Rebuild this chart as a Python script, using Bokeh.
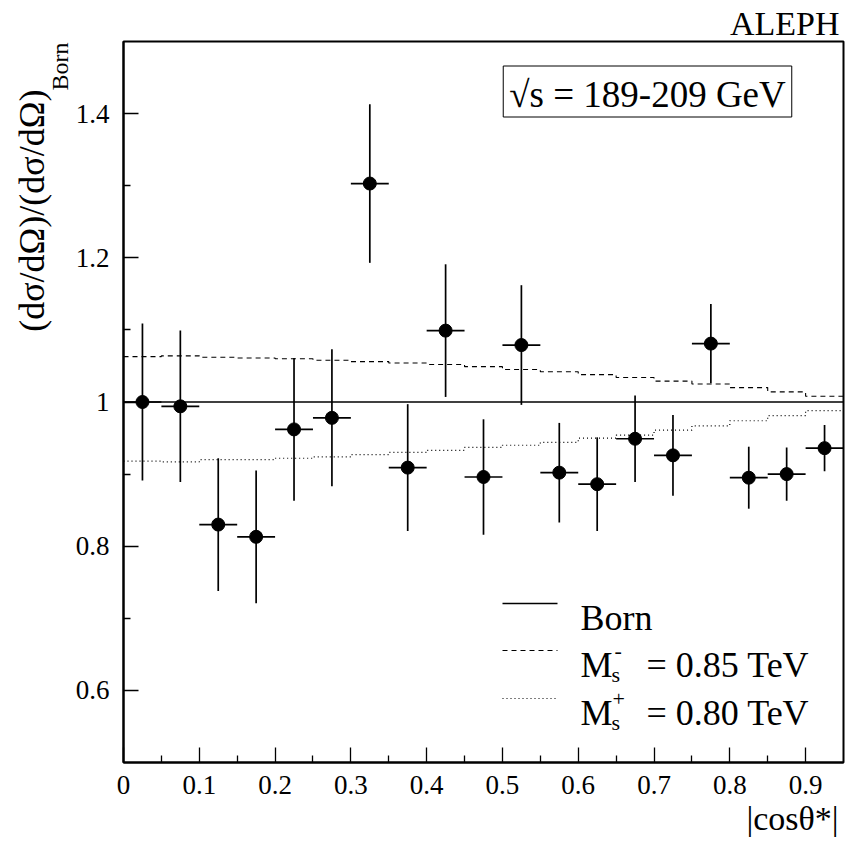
import numpy as np
from bokeh.plotting import figure
from bokeh.models import Range1d, FixedTicker, CustomJSTickFormatter, Label, Span, Title
from bokeh.embed import file_html
from bokeh.resources import INLINE

# ---------------- data ----------------
cos_theta = [0.025, 0.075, 0.125, 0.175, 0.225, 0.275, 0.325, 0.375, 0.425, 0.475,
             0.525, 0.575, 0.625, 0.675, 0.725, 0.775, 0.825, 0.875, 0.925]
bin_half_width = 0.025
ratio = [1.000, 0.994, 0.830, 0.813, 0.962, 0.978, 1.303, 0.909, 1.099, 0.896,
         1.079, 0.902, 0.886, 0.949, 0.926, 1.081, 0.895, 0.900, 0.936]
ratio_err = [0.109, 0.105, 0.092, 0.092, 0.099, 0.095, 0.110, 0.088, 0.092, 0.080,
             0.083, 0.069, 0.065, 0.060, 0.056, 0.055, 0.043, 0.037, 0.032]
ms_minus = [1.063, 1.064, 1.062, 1.061, 1.060, 1.058, 1.056, 1.054, 1.052, 1.049,
            1.045, 1.042, 1.038, 1.034, 1.029, 1.025, 1.020, 1.014, 1.008]
ms_plus = [0.918, 0.917, 0.920, 0.920, 0.922, 0.924, 0.927, 0.930, 0.933, 0.937,
           0.940, 0.944, 0.950, 0.954, 0.961, 0.967, 0.974, 0.981, 0.988]
born_ratio = 1.0
x_ticks = [0.0, 0.1, 0.2, 0.3, 0.4, 0.5, 0.6, 0.7, 0.8, 0.9]
x_minor = [0.05, 0.15, 0.25, 0.35, 0.45, 0.55, 0.65, 0.75, 0.85]
y_ticks = [0.6, 0.8, 1.0, 1.2, 1.4]
y_minor = [0.7, 0.9, 1.1, 1.3]

# ---------------- geometry ----------------
W, H = 856, 845
BL, BR, BT, BB = 123, 13, 41, 83
FW, FH = W - BL - BR, H - BT - BB
XMIN, XMAX, YMIN, YMAX = 0.0, 0.95, 0.5, 1.5
SERIF = "Liberation Serif"


def dx(px):
    return XMIN + (px - BL) / FW * (XMAX - XMIN)


def dy(py):
    return YMAX - (py - BT) / FH * (YMAX - YMIN)


p = figure(frame_width=FW, frame_height=FH, output_backend="svg", toolbar_location=None,
           x_range=Range1d(XMIN, XMAX), y_range=Range1d(YMIN, YMAX),
           min_border_left=BL, min_border_right=BR, min_border_top=BT, min_border_bottom=BB)
p.background_fill_color = "white"
p.border_fill_color = "white"
p.xgrid.visible = False
p.ygrid.visible = False
p.outline_line_color = "black"
p.outline_line_width = 2

# experiment name as the plot title (top right, above the frame)
p.title.text = "ALEPH"
p.title.align = "right"
p.title.offset = 4
p.title.standoff = 0
p.title.vertical_align = "bottom"
p.title.text_font = SERIF
p.title.text_font_size = "34px"
p.title.text_font_style = "normal"
p.title.text_color = "black"

fmt = CustomJSTickFormatter(code="return (Math.round(tick*10)/10).toString();")
for ax, ticks, minor in ((p.xaxis[0], x_ticks, x_minor), (p.yaxis[0], y_ticks, y_minor)):
    ax.ticker = FixedTicker(ticks=ticks, minor_ticks=minor)
    ax.formatter = fmt
    ax.axis_line_width = 2
    ax.axis_line_color = "black"
    ax.major_tick_in = 15
    ax.major_tick_out = 0
    ax.minor_tick_in = 7
    ax.minor_tick_out = 0
    ax.major_tick_line_width = 1.3
    ax.minor_tick_line_width = 1.3
    ax.major_label_text_font = SERIF
    ax.major_label_text_font_size = "27px"
    ax.major_label_text_color = "black"
p.xaxis.major_label_standoff = 13
p.yaxis.major_label_standoff = 14

# x-axis title at the right end (label is centred on the end point, so pad it
# with non-breaking spaces to bring the visible text inside the frame)
xa_ = p.xaxis[0]
xa_.axis_label = "|cos\u03b8*|" + "\u00a0" * 12
xa_.axis_label_align = "end"
xa_.axis_label_standoff = 3
xa_.axis_label_text_font = SERIF
xa_.axis_label_text_font_size = "34px"
xa_.axis_label_text_font_style = "normal"
xa_.axis_label_text_color = "black"

# y-axis title (main part and subscript) at the top end
t_born = Title(text="Born", align="right", offset=1, standoff=0, vertical_align="bottom",
               text_font=SERIF, text_font_size="24px", text_font_style="normal", text_color="black")
t_main = Title(text="(d\u03c3/d\u03a9)/(d\u03c3/d\u03a9)", align="right", offset=48, standoff=0,
               vertical_align="bottom", text_font=SERIF, text_font_size="36px",
               text_font_style="normal", text_color="black")
try:
    t_main.standoff = -14
except Exception:
    t_main.standoff = 0
p.add_layout(t_born, "left")
p.add_layout(t_main, "left")

# ---------------- curves ----------------
edges = [c - bin_half_width for c in cos_theta] + [cos_theta[-1] + bin_half_width]
p.add_layout(Span(location=born_ratio, dimension="width", line_color="black", line_width=1.3))
p.step(edges, ms_minus + [ms_minus[-1]], mode="after", line_color="black",
       line_width=1.1, line_dash="5 4")
p.step(edges, ms_plus + [ms_plus[-1]], mode="after", line_color="black",
       line_width=1.2, line_dash="1 3")

# ---------------- data points ----------------
xa = np.array(cos_theta)
ya = np.array(ratio)
ea = np.array(ratio_err)
p.segment(xa, ya - ea, xa, ya + ea, line_color="black", line_width=1.7)
p.segment(xa - bin_half_width, ya, xa + bin_half_width, ya, line_color="black", line_width=1.7)
p.scatter(xa, ya, size=13, color="black")

# ---------------- legend ----------------
leg_x0, leg_x1 = dx(502), dx(557)
p.segment([leg_x0], [dy(603)], [leg_x1], [dy(603)], line_color="black", line_width=1.3)
p.segment([leg_x0], [dy(650)], [leg_x1], [dy(650)], line_color="black", line_width=1.1, line_dash="5 4")
p.segment([leg_x0], [dy(698)], [leg_x1], [dy(698)], line_color="black", line_width=1.2, line_dash="1 3")


def lab(text, px, py, size, align="left", baseline="alphabetic", **kw):
    p.add_layout(Label(x=dx(px), y=dy(py), text=text, text_font=SERIF,
                       text_font_size=f"{size}px", text_align=align,
                       text_baseline=baseline, text_color="black", **kw))


lab("Born", 580, 617, 36)
lab("M", 580, 664, 36)
lab("s", 611, 674, 22)
lab("-", 614, 650, 22)
lab("= 0.85 TeV", 646, 664, 36)
lab("M", 580, 712, 36)
lab("s", 611, 722, 22)
lab("+", 612, 698, 22)
lab("= 0.80 TeV", 646, 712, 36)

# energy box
lab("\u221as = 189-209 GeV", 647, 91, 37, align="center", baseline="middle",
    border_line_color="black", border_line_width=1, background_fill_color="white",
    padding=dict(left=6, right=6, top=8, bottom=2))

open("out.html", "w").write(file_html(p, INLINE))
